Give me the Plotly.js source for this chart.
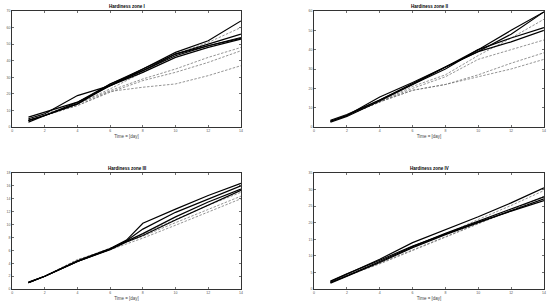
<!DOCTYPE html>
<html>
<head>
<meta charset="utf-8">
<script src="https://cdn.plot.ly/plotly-3.0.1.min.js"></script>
<style>
  html, body { margin: 0; padding: 0; background: #fff; }
  #chart { width: 550px; height: 304px; }
</style>
</head>
<body>
<div id="chart"></div>
<script>
// days sampled in each zone
const daysI = [1, 2, 4, 6, 8, 10, 12, 14];
const daysII = [1, 2, 4, 6, 8, 10, 12, 14];
const daysIII = [1, 2, 4, 6, 7, 8, 10, 12, 14];
const daysIV = [1, 2, 4, 6, 8, 10, 12, 14];

// zone I
const zoneISolid = [
  [4, 7, 14, 26, 35, 45, 52, 64],
  [5, 8, 19, 25, 34, 44, 50, 56],
  [3, 7, 15, 26, 34, 43, 49, 54],
  [6, 9, 15, 25, 33, 42, 48, 53],
  [4, 7, 14, 25, 35, 44, 49, 53.5]
];
const zoneIDashed = [
  [4, 8, 14, 23, 33, 44, 51, 60],
  [4, 7, 14, 22, 29, 35, 42, 48],
  [4, 7, 13, 21, 28, 33, 39, 46],
  [4, 7, 13, 21.5, 24, 26, 31, 37]
];

// zone II
const zoneIISolid = [
  [3, 6, 15.5, 23, 31, 40, 50, 59.5],
  [2.5, 5.5, 13.5, 22, 31, 39, 48, 59.5],
  [3, 6, 14, 22, 30, 40, 46, 51.4],
  [3.5, 6.5, 14, 22.5, 31, 39, 44, 50]
];
const zoneIIDashed = [
  [3, 6, 13, 21, 27, 37, 46, 55.7],
  [3, 6, 13, 20, 26, 35, 40, 45],
  [3, 6, 13, 19, 22, 27, 33, 38.4],
  [3, 6, 13, 19, 22, 26, 30, 35]
];

// zone III
const zoneIIISolid = [
  [1, 2, 4.4, 6.3, 7.6, 10.2, 12.4, 14.5, 16.4],
  [1, 2, 4.3, 6.2, 7.5, 9.3, 11.9, 14.0, 16.0],
  [1, 2, 4.3, 6.2, 7.4, 8.6, 11.2, 13.5, 15.5],
  [1.1, 2, 4.3, 6.1, 7.3, 8.3, 10.7, 13, 15.3]
];
const zoneIIIDashed = [
  [1, 2, 4.4, 6.3, 7.5, 8.5, 10.8, 13.0, 15.0],
  [1, 2, 4.5, 6.4, 7.3, 8.2, 10.3, 12.4, 14.4],
  [1, 2, 4.6, 6.1, 7.0, 7.9, 9.9, 12.0, 14.0]
];

// zone IV
const zoneIVSolid = [
  [2.3, 4.5, 9, 14, 17.8, 21.8, 26, 30.5],
  [2, 4, 8.3, 12.8, 16.8, 20.5, 24.2, 27.8],
  [1.8, 3.8, 8, 12.5, 16.4, 20, 23.6, 27.2],
  [2.4, 4.6, 8.7, 13, 16.6, 20.2, 23.5, 26.7]
];
const zoneIVDashed = [
  [2.2, 4.3, 8.2, 12.5, 16.5, 21, 25.2, 29.7],
  [2, 4, 7.6, 11.6, 15.6, 19.6, 23.7, 28],
  [2.1, 4.1, 7.8, 11.8, 16, 20, 24, 27.8]
];

const titles = ['Hardiness zone I', 'Hardiness zone II', 'Hardiness zone III', 'Hardiness zone IV'];
const xTitle = 'Time = [day]';

const panels = [
  { days: daysI, solid: zoneISolid, dashed: zoneIDashed, yMax: 70, yStep: 10 },
  { days: daysII, solid: zoneIISolid, dashed: zoneIIDashed, yMax: 60, yStep: 10 },
  { days: daysIII, solid: zoneIIISolid, dashed: zoneIIIDashed, yMax: 18, yStep: 2 },
  { days: daysIV, solid: zoneIVSolid, dashed: zoneIVDashed, yMax: 35, yStep: 5 }
];

const xDomains = [[0.022, 0.438], [0.571, 0.989], [0.022, 0.438], [0.571, 0.989]];
const yDomains = [[0.582, 0.964], [0.582, 0.964], [0.049, 0.431], [0.049, 0.431]];

const font = 'Liberation Sans, Arial, sans-serif';
const traces = [];
const layout = {
  width: 550,
  height: 304,
  margin: { l: 0, r: 0, t: 0, b: 0 },
  paper_bgcolor: '#fff',
  plot_bgcolor: '#fff',
  showlegend: false,
  font: { family: font, size: 4, color: '#444' },
  annotations: []
};

panels.forEach((p, i) => {
  const n = i + 1;
  const xa = n === 1 ? 'x' : 'x' + n;
  const ya = n === 1 ? 'y' : 'y' + n;

  p.dashed.forEach(vals => {
    traces.push({
      x: p.days, y: vals, xaxis: xa, yaxis: ya,
      type: 'scatter', mode: 'lines',
      line: { color: '#666', width: 0.7, dash: '2.5px,1.5px' }
    });
  });
  p.solid.forEach(vals => {
    traces.push({
      x: p.days, y: vals, xaxis: xa, yaxis: ya,
      type: 'scatter', mode: 'lines',
      line: { color: '#000', width: 1.2 }
    });
  });

  const axisCommon = {
    showline: true, mirror: 'ticks', linecolor: '#333', linewidth: 1,
    ticks: 'inside', ticklen: 2, tickcolor: '#333', tickwidth: 0.7,
    showgrid: false, zeroline: false,
    tickfont: { family: font, size: 3.5, color: '#555' }
  };
  layout['xaxis' + (n === 1 ? '' : n)] = Object.assign({}, axisCommon, {
    domain: xDomains[i], anchor: ya, range: [0, 14], dtick: 2, tick0: 0,
    title: { text: xTitle, font: { family: font, size: 4.5, color: '#444' }, standoff: 2 }
  });
  layout['yaxis' + (n === 1 ? '' : n)] = Object.assign({}, axisCommon, {
    domain: yDomains[i], anchor: xa, range: [0, p.yMax], dtick: p.yStep, tick0: 0
  });

  layout.annotations.push({
    text: '<b>' + titles[i] + '</b>',
    xref: 'paper', yref: 'paper',
    x: (xDomains[i][0] + xDomains[i][1]) / 2,
    y: yDomains[i][1], yanchor: 'bottom', xanchor: 'center',
    showarrow: false, font: { family: font, size: 4.5, color: '#000' }
  });
});

Plotly.newPlot('chart', traces, layout, { staticPlot: true, displayModeBar: false });
</script>
</body>
</html>
